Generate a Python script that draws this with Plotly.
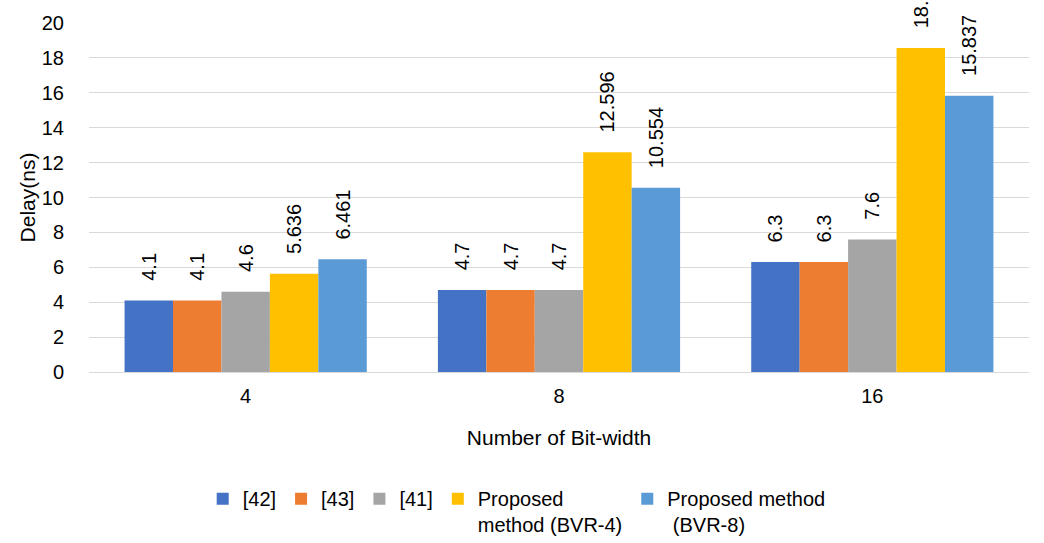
import plotly.graph_objects as go

# Delay (ns) per bit-width for each design
categories = ["4", "8", "16"]
series_names = ["[42]", "[43]", "[41]", "Proposed<br>method (BVR-4)", "Proposed method<br> (BVR-8)"]
ref42 = [4.1, 4.7, 6.3]
ref43 = [4.1, 4.7, 6.3]
ref41 = [4.6, 4.7, 7.6]
bvr4 = [5.636, 12.596, 18.571]
bvr8 = [6.461, 10.554, 15.837]
y_ticks = [0, 2, 4, 6, 8, 10, 12, 14, 16, 18, 20]

colors = ["#4472C4", "#ED7D31", "#A5A5A5", "#FFC000", "#5B9BD5"]
FONT = "Liberation Sans, Arial, sans-serif"

fig = go.Figure()
for name, vals, col in zip(series_names, [ref42, ref43, ref41, bvr4, bvr8], colors):
    fig.add_trace(go.Bar(
        x=categories, y=vals, name=name,
        marker=dict(color=col, line=dict(width=0)),
        text=["\u00a0\u00a0\u00a0" + str(v) for v in vals],
        textposition="outside", textangle=-90, constraintext="none",
        textfont=dict(family=FONT, size=20, color="#000000"),
        cliponaxis=False,
    ))

fig.update_layout(
    width=1044, height=543,
    margin=dict(l=88.5, r=14.5, t=23, b=171, autoexpand=False),
    paper_bgcolor="white", plot_bgcolor="white",
    barmode="group", bargap=0.227, bargroupgap=0,
    font=dict(family=FONT, size=20, color="#000000"),
    uniformtext=dict(mode=False),
    xaxis=dict(
        type="category", showgrid=False, showline=False, zeroline=False,
        ticks="", ticklabelstandoff=10, automargin=False,
        tickfont=dict(size=20),
        title=dict(text="Number of Bit-width", font=dict(size=21), standoff=24),
    ),
    yaxis=dict(
        range=[0, 20], tickvals=y_ticks, showgrid=True, gridcolor="#D9D9D9", gridwidth=1.3,
        zeroline=True, zerolinecolor="#D9D9D9", zerolinewidth=1.3, showline=False,
        ticks="", ticklabelstandoff=24, tickfont=dict(size=20), automargin=False,
        title=dict(text="Delay(ns)", font=dict(size=21), standoff=0),
    ),
    legend=dict(
        orientation="h", x=0.455, xanchor="center", y=-0.307, yanchor="top",
        font=dict(size=20), valign="top", itemwidth=30, traceorder="normal",
        tracegroupgap=0, bgcolor="rgba(0,0,0,0)",
    ),
)

fig.write_html("out.html")
